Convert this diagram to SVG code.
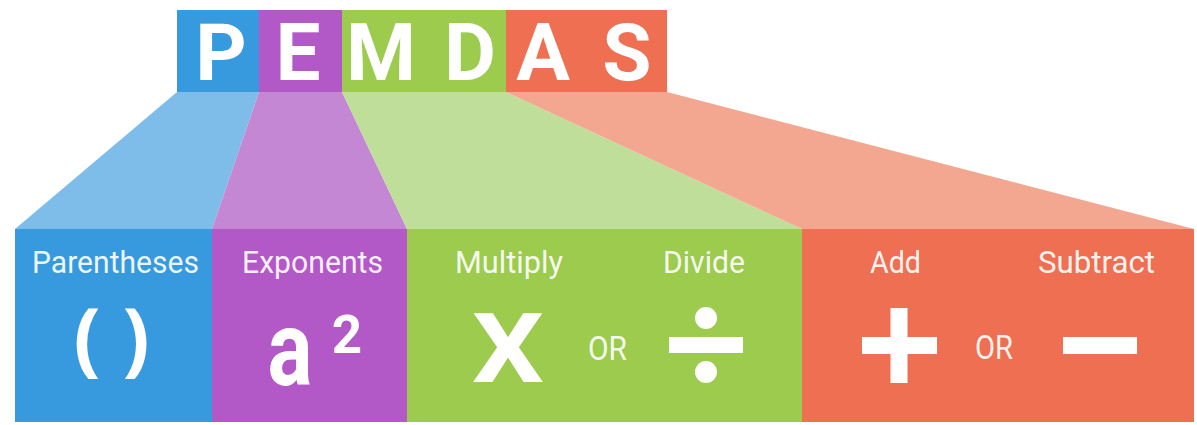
<svg xmlns="http://www.w3.org/2000/svg" width="1197" height="425" viewBox="0 0 1197 425">
<style>
.hdr{font-family:Roboto,"Liberation Sans",sans-serif;font-weight:700;font-size:80px;fill:#fff;text-anchor:middle}
.lbl{font-family:Roboto,"Liberation Sans",sans-serif;font-weight:400;font-size:32px;fill:#fff;fill-opacity:0.92;text-anchor:middle}
.or{font-family:Roboto,"Liberation Sans",sans-serif;font-weight:400;font-size:33px;fill:#fff;fill-opacity:0.92;text-anchor:middle}
.sym{font-family:Roboto,"Open Sans","Liberation Sans",sans-serif;font-weight:700;fill:#fff;text-anchor:middle}
.paren{font-family:"Open Sans","Liberation Sans",sans-serif;font-weight:700;font-size:80px;fill:#fff;text-anchor:middle}
.w{fill:#fff}
</style>
<rect width="1197" height="425" fill="#fff"/>
<g id="connectors">
<polygon points="177,92 259,92 212,229 15,229" fill="#7ebdea"/>
<polygon points="259,92 342,92 407,229 212,229" fill="#c387d4"/>
<polygon points="342,92 506,92 802,229 407,229" fill="#bfde9a"/>
<polygon points="506,92 667,92 1194,229 802,229" fill="#f3a690"/>
</g>
<g id="hdr-P"><rect x="177" y="10" width="82" height="82" fill="#379ade"/><text class="hdr" x="221" y="80">P</text></g>
<g id="hdr-E"><rect x="259" y="10" width="83" height="82" fill="#b259c7"/><text class="hdr" x="298" y="80">E</text></g>
<g id="hdr-MD"><rect x="342" y="10" width="164" height="82" fill="#9ccb4e"/><text class="hdr" x="381" y="80">M</text><text class="hdr" x="470" y="80">D</text></g>
<g id="hdr-AS"><rect x="506" y="10" width="161" height="82" fill="#ee6f52"/><text class="hdr" x="543" y="80">A</text><text class="hdr" x="627" y="80">S</text></g>
<g id="box-parentheses">
<rect x="15" y="229" width="197" height="193" fill="#379ade"/>
<text class="lbl" x="115.5" y="273" textLength="167" lengthAdjust="spacingAndGlyphs">Parentheses</text>
<text class="paren" x="87" y="366">(</text>
<text class="paren" x="136" y="366">)</text>
</g>
<g id="box-exponents">
<rect x="212" y="229" width="195" height="193" fill="#b259c7"/>
<text class="lbl" x="312.5" y="273" textLength="141" lengthAdjust="spacingAndGlyphs">Exponents</text>
<text class="sym" x="290" y="385" font-size="106" textLength="45" lengthAdjust="spacingAndGlyphs">a</text>
<text class="sym" x="347" y="353" font-size="53">2</text>
</g>
<g id="box-multiply-divide">
<rect x="407" y="229" width="395" height="193" fill="#9ccb4e"/>
<text class="lbl" x="509" y="273" textLength="108" lengthAdjust="spacingAndGlyphs">Multiply</text>
<text class="lbl" x="704" y="273" textLength="82" lengthAdjust="spacingAndGlyphs">Divide</text>
<text class="sym" x="508" y="382" font-size="97" textLength="72" lengthAdjust="spacingAndGlyphs">X</text>
<text class="or" x="607.5" y="360" textLength="39" lengthAdjust="spacingAndGlyphs">OR</text>
<rect class="w" x="669" y="337" width="74" height="16"/>
<circle class="w" cx="706" cy="318" r="11"/>
<circle class="w" cx="706" cy="372" r="11"/>
</g>
<g id="box-add-subtract">
<rect x="802" y="229" width="392" height="193" fill="#ee6f52"/>
<text class="lbl" x="895.5" y="273" textLength="51" lengthAdjust="spacingAndGlyphs">Add</text>
<text class="lbl" x="1096.5" y="273" textLength="117" lengthAdjust="spacingAndGlyphs">Subtract</text>
<rect class="w" x="862" y="337" width="75" height="17"/>
<rect class="w" x="890.5" y="308" width="17" height="75"/>
<text class="or" x="994" y="359" textLength="38" lengthAdjust="spacingAndGlyphs">OR</text>
<rect class="w" x="1063" y="337" width="74" height="17"/>
</g>
</svg>
